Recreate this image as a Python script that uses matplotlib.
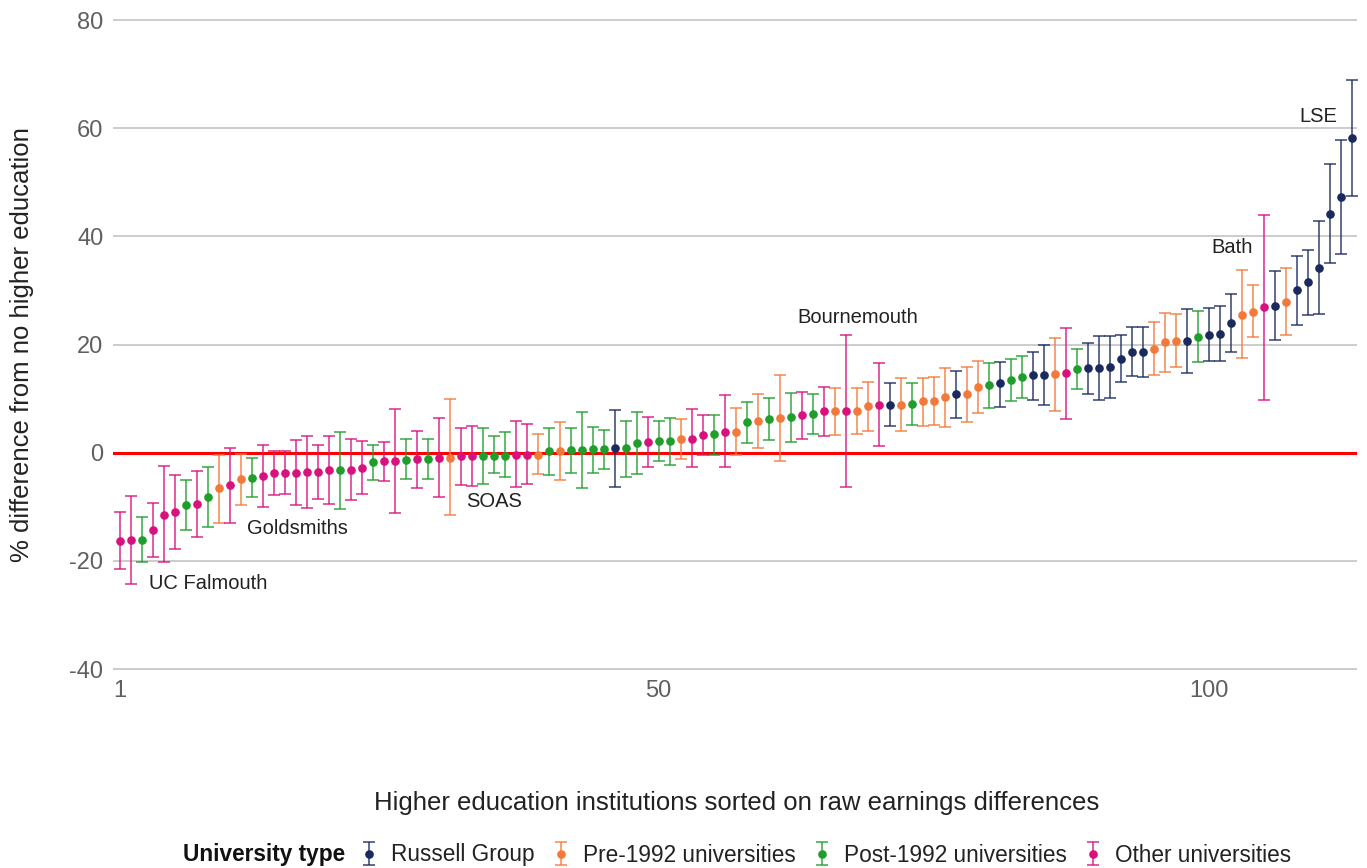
"""Earnings differences by higher education institution"""

import matplotlib
matplotlib.use("Agg")
import matplotlib.pyplot as plt

plt.rcParams["font.family"] = ["Liberation Sans", "DejaVu Sans"]
plt.rcParams["axes.unicode_minus"] = False

# point estimate, lower and upper bound, university type (R, Pre, Post, O)
values = [
    -16.3, -16.2, -16.1, -14.2, -11.5, -11.0, -9.7, -9.5, -8.2, -6.6,
    -5.9, -4.8, -4.6, -4.3, -3.8, -3.8, -3.7, -3.5, -3.5, -3.2,
    -3.2, -3.2, -2.8, -1.7, -1.6, -1.5, -1.4, -1.2, -1.2, -0.9,
    -0.9, -0.7, -0.7, -0.6, -0.6, -0.6, -0.5, -0.5, -0.4, 0.25,
    0.4, 0.5, 0.55, 0.7, 0.75, 0.8, 0.8, 1.8, 1.9, 2.2,
    2.2, 2.5, 2.6, 3.3, 3.4, 3.8, 3.9, 5.6, 5.8, 6.3,
    6.4, 6.6, 6.9, 7.2, 7.7, 7.7, 7.7, 7.7, 8.6, 8.8,
    8.8, 8.9, 9.0, 9.5, 9.6, 10.3, 10.8, 10.8, 12.2, 12.6,
    12.8, 13.5, 14.0, 14.4, 14.4, 14.6, 14.7, 15.5, 15.6, 15.7,
    15.8, 17.3, 18.7, 18.7, 19.2, 20.5, 20.7, 20.6, 21.4, 21.8,
    22.0, 24.0, 25.5, 26.1, 27.0, 27.2, 27.9, 30.0, 31.6, 34.2,
    44.2, 47.3, 58.2,
]
lower = [
    -21.5, -24.3, -20.2, -19.2, -20.3, -17.8, -14.3, -15.5, -13.7, -13.0,
    -13.0, -9.7, -8.2, -10.0, -7.9, -7.7, -9.7, -10.2, -8.5, -9.5,
    -10.5, -8.7, -7.7, -5.0, -5.3, -11.1, -4.8, -6.6, -4.8, -8.1,
    -11.5, -5.9, -6.1, -5.7, -3.8, -4.5, -6.4, -5.8, -4.0, -4.1,
    -5.0, -3.8, -6.6, -3.7, -3.0, -6.4, -4.4, -4.0, -2.7, -1.5,
    -2.2, -1.2, -2.7, -0.4, -0.4, -2.7, -0.4, 1.8, 0.9, 2.4,
    -1.5, 2.0, 2.5, 3.5, 3.0, 3.3, -6.4, 3.4, 4.1, 1.2,
    4.9, 4.1, 5.2, 5.0, 5.2, 4.8, 6.5, 5.7, 7.4, 8.3,
    8.5, 9.6, 10.1, 9.8, 8.8, 7.8, 6.2, 11.7, 10.9, 9.8,
    10.2, 13.0, 14.2, 14.0, 14.3, 15.0, 15.9, 14.8, 16.7, 16.9,
    17.0, 18.6, 17.5, 21.4, 9.8, 20.8, 21.7, 23.6, 25.5, 25.7,
    35.1, 36.8, 47.5,
]
upper = [
    -11.0, -8.0, -11.8, -9.3, -2.5, -4.1, -5.0, -3.4, -2.6, -0.4,
    0.9, -0.3, -0.9, 1.5, 0.4, 0.4, 2.3, 3.0, 1.5, 3.0,
    3.9, 2.5, 2.2, 1.5, 2.0, 8.0, 2.5, 4.1, 2.5, 6.4,
    10.0, 4.5, 4.9, 4.6, 3.0, 3.8, 5.9, 5.3, 3.5, 4.6,
    5.7, 4.5, 7.5, 4.8, 4.2, 7.9, 5.8, 7.6, 6.6, 5.8,
    6.5, 6.2, 8.0, 6.9, 6.9, 10.6, 8.2, 9.4, 10.8, 10.2,
    14.3, 11.1, 11.2, 10.8, 12.2, 11.9, 21.8, 12.0, 13.1, 16.5,
    12.8, 13.9, 12.8, 13.9, 14.0, 15.7, 15.1, 15.9, 17.0, 16.6,
    16.8, 17.4, 17.9, 18.7, 19.9, 21.3, 23.0, 19.2, 20.2, 21.6,
    21.5, 21.7, 23.2, 23.3, 24.2, 25.9, 25.6, 26.6, 26.2, 26.8,
    27.1, 29.4, 33.7, 31.0, 44.0, 33.6, 34.1, 36.3, 37.5, 42.8,
    53.4, 57.8, 68.9,
]
types = [
    "O", "O", "Post", "O", "O", "O", "Post", "O", "Post", "Pre",
    "O", "Pre", "Post", "O", "O", "O", "O", "O", "O", "O",
    "Post", "O", "O", "Post", "O", "O", "Post", "O", "Post", "O",
    "Pre", "O", "O", "Post", "Post", "Post", "O", "O", "Pre", "Post",
    "Pre", "Post", "Post", "Post", "Post", "R", "Post", "Post", "O", "Post",
    "Post", "Pre", "O", "O", "Post", "O", "Pre", "Post", "Pre", "Post",
    "Pre", "Post", "O", "Post", "O", "Pre", "O", "Pre", "Pre", "O",
    "R", "Pre", "Post", "Pre", "Pre", "Pre", "R", "Pre", "Pre", "Post",
    "R", "Post", "Post", "R", "R", "Pre", "O", "Post", "R", "R",
    "R", "R", "R", "R", "Pre", "Pre", "Pre", "R", "Post", "R",
    "R", "R", "Pre", "Pre", "O", "R", "Pre", "R", "R", "R",
    "R", "R", "R",
]

type_keys = ["R", "Pre", "Post", "O"]
type_names = ["Russell Group", "Pre-1992 universities",
              "Post-1992 universities", "Other universities"]
type_colors = ["#1b2a5c", "#f2793a", "#1f9e2c", "#d8127c"]

labels = ["UC Falmouth", "Goldsmiths", "SOAS", "Bournemouth", "Bath", "LSE"]
label_x = [3.7, 12.6, 32.5, 62.6, 100.3, 108.3]
label_y = [-24.2, -14.0, -9.0, 25.0, 38.0, 62.2]

fig = plt.figure(figsize=(13.67, 8.68), dpi=100)
ax = fig.add_axes([0.0827, 0.223, 0.91, 0.7601])

ax.axhline(0, color="#ff0000", lw=2.2, zorder=1)

handles = []
for key, name, color in zip(type_keys, type_names, type_colors):
    idx = [i for i, t in enumerate(types) if t == key]
    xs = [i + 1 for i in idx]
    ys = [values[i] for i in idx]
    err = [[values[i] - lower[i] for i in idx],
           [upper[i] - values[i] for i in idx]]
    eb = ax.errorbar(xs, ys, yerr=err, fmt="o", color=color, ms=5.2,
                     elinewidth=1.4, capsize=4, capthick=1.4, label=name,
                     zorder=3)
    for part in eb[1] + eb[2]:
        part.set_alpha(0.7)
    handles.append(eb)

for text, x, y in zip(labels, label_x, label_y):
    ax.text(x, y, text, fontsize=14.5, color="#222222", ha="left",
            va="center")

ax.set_xlim(0.41, 113.5)
ax.set_ylim(-41, 81)
ax.set_yticks([-40, -20, 0, 20, 40, 60, 80])
ax.set_xticks([1, 50, 100])
ax.grid(axis="y", color="#c8c8c8", lw=1.3, zorder=0)
ax.set_axisbelow(True)
for side in ax.spines.values():
    side.set_visible(False)
ax.tick_params(length=0, labelsize=17, labelcolor="#606060")
ax.tick_params(axis="y", pad=7)
ax.tick_params(axis="x", pad=4)

fig.text(22 / 1367, 1 - 345 / 868, "% difference from no higher education",
         rotation=90, fontsize=18.5, color="#222222", ha="center",
         va="center")
fig.text(737 / 1367, 1 - 803 / 868,
         "Higher education institutions sorted on raw earnings differences",
         fontsize=18.5, color="#222222", ha="center", va="center")

fig.text(183 / 1367, 1 - 855 / 868, "University type", fontsize=16.3,
         fontweight="bold", color="#111111", ha="left", va="center")
fig.legend(handles=handles, loc="center left",
           bbox_to_anchor=(358 / 1367, 1 - 855 / 868), ncol=4,
           frameon=False, fontsize=16.3, handlelength=1.0, handletextpad=0.45,
           columnspacing=0.68, borderaxespad=0, borderpad=0,
           labelcolor="#222222")

fig.savefig("out.png", dpi=100, facecolor="white")
